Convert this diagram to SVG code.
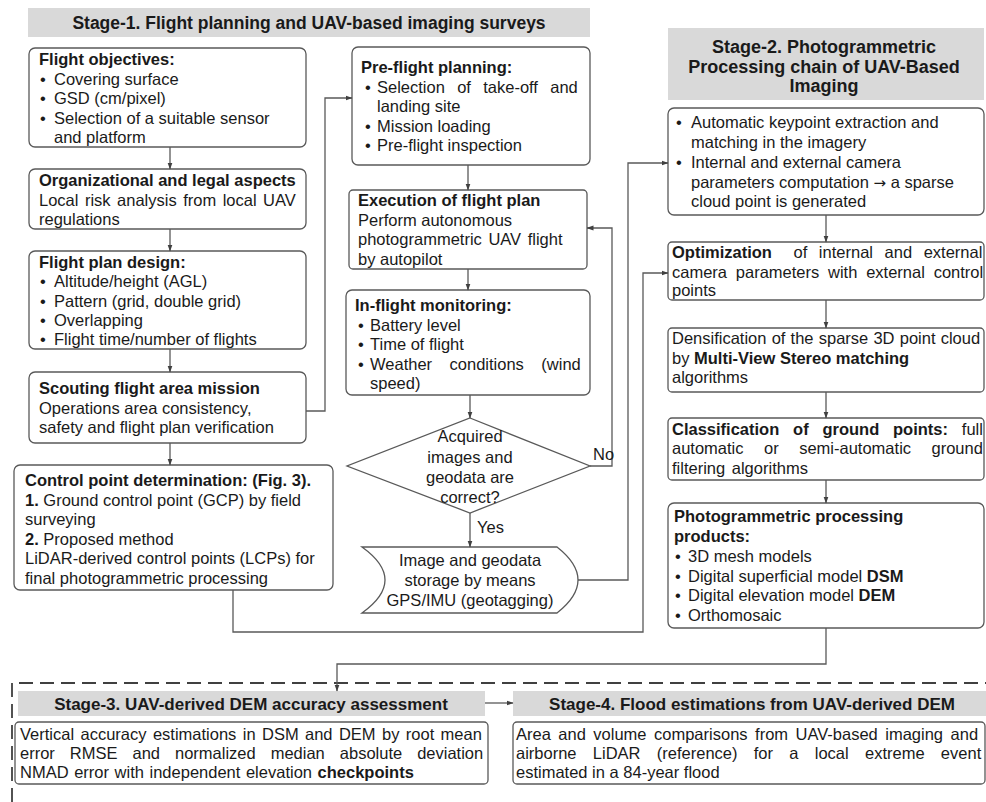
<svg xmlns="http://www.w3.org/2000/svg" width="986" height="802" viewBox="0 0 986 802">
<style>
  .bg { fill: #ffffff; }
  .box { fill: #ffffff; stroke: #595959; stroke-width: 1.3; }
  .hdr { fill: #d9d9d9; }
  text { font-family: "Liberation Sans", Arial, sans-serif; fill: #1a1a1a; }
  .t { font-size: 16.5px; }
  .b { font-weight: bold; }
  .c { text-anchor: middle; }
  .h { font-size: 17.5px; font-weight: bold; text-anchor: middle; }
  .h2 { font-size: 18px; font-weight: bold; text-anchor: middle; }
  .hs { font-size: 17px; font-weight: bold; text-anchor: middle; }
  .arr { font-family: "DejaVu Sans", sans-serif; font-size: 15px; }
  .conn path { fill: none; stroke: #595959; stroke-width: 1.3; }
  .dash { fill: none; stroke: #404040; stroke-width: 1.8; stroke-dasharray: 14 7; }
</style>
<defs>
  <marker id="ah" markerWidth="7" markerHeight="6" refX="6.5" refY="3" orient="auto" markerUnits="userSpaceOnUse">
    <path d="M0,0.5 L7,3 L0,5.5 z" fill="#404040"/>
  </marker>
</defs>
<rect class="bg" x="0" y="0" width="986" height="802"/>

<!-- Stage 1 -->
<g id="stage1-header">
  <rect class="hdr" x="28" y="8" width="562" height="29"/>
  <text class="h" x="309" y="28.5">Stage-1. Flight planning and UAV-based imaging surveys</text>
</g>

<g id="flight-objectives">
  <rect class="box" x="29" y="48" width="277" height="99" rx="6"/>
  <text class="t b" x="39" y="65">Flight objectives:</text>
  <text class="t" x="40" y="84.5">•</text><text class="t" x="54" y="84.5">Covering surface</text>
  <text class="t" x="40" y="104">•</text><text class="t" x="54" y="104">GSD (cm/pixel)</text>
  <text class="t" x="40" y="123.5">•</text><text class="t" x="54" y="123.5">Selection of a suitable sensor</text>
  <text class="t" x="54" y="143">and platform</text>
</g>

<g id="legal-aspects">
  <rect class="box" x="29" y="169" width="277" height="60" rx="6"/>
  <text class="t b" x="39" y="186">Organizational and legal aspects</text>
  <text class="t" x="39" y="205.5" word-spacing="1.9">Local risk analysis from local UAV</text>
  <text class="t" x="39" y="225">regulations</text>
</g>

<g id="flight-plan-design">
  <rect class="box" x="29" y="251" width="277" height="98" rx="6"/>
  <text class="t b" x="39" y="268">Flight plan design:</text>
  <text class="t" x="40" y="287">•</text><text class="t" x="54" y="287">Altitude/height (AGL)</text>
  <text class="t" x="40" y="306.5">•</text><text class="t" x="54" y="306.5">Pattern (grid, double grid)</text>
  <text class="t" x="40" y="326">•</text><text class="t" x="54" y="326">Overlapping</text>
  <text class="t" x="40" y="345">•</text><text class="t" x="54" y="345">Flight time/number of flights</text>
</g>

<g id="scouting">
  <rect class="box" x="29" y="372" width="277" height="71" rx="6"/>
  <text class="t b" x="39" y="394">Scouting flight area mission</text>
  <text class="t" x="39" y="413.5">Operations area consistency,</text>
  <text class="t" x="39" y="433">safety and flight plan verification</text>
</g>

<g id="control-points">
  <rect class="box" x="14" y="465" width="319" height="125" rx="6"/>
  <text class="t b" x="25" y="486">Control point determination: (Fig. 3).</text>
  <text class="t" x="25" y="505.5"><tspan class="b">1.</tspan> Ground control point (GCP) by field</text>
  <text class="t" x="25" y="525">surveying</text>
  <text class="t" x="25" y="544.5"><tspan class="b">2.</tspan> Proposed method</text>
  <text class="t" x="25" y="564">LiDAR-derived control points (LCPs) for</text>
  <text class="t" x="25" y="583.5">final photogrammetric processing</text>
</g>

<g id="pre-flight">
  <rect class="box" x="352" y="47" width="238" height="118" rx="6"/>
  <text class="t b" x="361" y="73">Pre-flight planning:</text>
  <text class="t" x="365" y="92.5">•</text><text class="t" x="377" y="92.5" word-spacing="7.7">Selection of take-off and</text>
  <text class="t" x="377" y="112">landing site</text>
  <text class="t" x="365" y="131.5">•</text><text class="t" x="377" y="131.5">Mission loading</text>
  <text class="t" x="365" y="151">•</text><text class="t" x="377" y="151">Pre-flight inspection</text>
</g>

<g id="execution">
  <rect class="box" x="349" y="190" width="238" height="79" rx="4"/>
  <text class="t b" x="358" y="206">Execution of flight plan</text>
  <text class="t" x="358" y="225.5">Perform autonomous</text>
  <text class="t" x="358" y="245" word-spacing="2">photogrammetric UAV flight</text>
  <text class="t" x="358" y="264.5">by autopilot</text>
</g>

<g id="in-flight">
  <rect class="box" x="346" y="290" width="244" height="105" rx="6"/>
  <text class="t b" x="355" y="311">In-flight monitoring:</text>
  <text class="t" x="358" y="330.5">•</text><text class="t" x="370" y="330.5">Battery level</text>
  <text class="t" x="358" y="350">•</text><text class="t" x="370" y="350">Time of flight</text>
  <text class="t" x="358" y="369.5">•</text><text class="t" x="370" y="369.5" word-spacing="12.9">Weather conditions (wind</text>
  <text class="t" x="370" y="389">speed)</text>
</g>

<g id="decision">
  <polygon class="box" points="470,418 590,466 470,513 347,466"/>
  <text class="t c" x="470" y="442">Acquired</text>
  <text class="t c" x="470" y="462.5">images and</text>
  <text class="t c" x="470" y="483">geodata are</text>
  <text class="t c" x="470" y="503">correct?</text>
</g>

<g id="storage">
  <path class="box" d="M362,547 H557 Q599,580 557,613 H362 Q408,580 362,547 Z"/>
  <text class="t c" x="470" y="565.5">Image and geodata</text>
  <text class="t c" x="470" y="585.5">storage by means</text>
  <text class="t c" x="470" y="605.5">GPS/IMU (geotagging)</text>
</g>

<!-- Stage 2 -->
<g id="stage2-header">
  <rect class="hdr" x="668" y="28" width="316" height="72"/>
  <text class="h2" x="824" y="53">Stage-2. Photogrammetric</text>
  <text class="h2" x="824" y="72.5">Processing chain of UAV-Based</text>
  <text class="h2" x="824" y="92">Imaging</text>
</g>

<g id="keypoints">
  <rect class="box" x="668" y="108" width="316" height="107" rx="6"/>
  <text class="t" x="676" y="127.5">•</text><text class="t" x="691" y="127.5">Automatic keypoint extraction and</text>
  <text class="t" x="691" y="147.5">matching in the imagery</text>
  <text class="t" x="676" y="167.5">•</text><text class="t" x="691" y="167.5">Internal and external camera</text>
  <text class="t" x="691" y="187.5">parameters computation <tspan class="arr">→</tspan> a sparse</text>
  <text class="t" x="691" y="207">cloud point is generated</text>
</g>

<g id="optimization">
  <rect class="box" x="668" y="242" width="316" height="58" rx="4"/>
  <text class="t" x="672" y="258" word-spacing="7"><tspan class="b">Optimization</tspan><tspan dx="10"> of internal and external</tspan></text>
  <text class="t" x="672" y="277.5" word-spacing="4.2">camera parameters with external control</text>
  <text class="t" x="672" y="296">points</text>
</g>

<g id="densification">
  <rect class="box" x="668" y="328" width="316" height="64" rx="4"/>
  <text class="t" x="672" y="344" word-spacing="0.6">Densification of the sparse 3D point cloud</text>
  <text class="t" x="672" y="363.5">by <tspan class="b">Multi-View Stereo matching</tspan></text>
  <text class="t" x="672" y="383">algorithms</text>
</g>

<g id="classification">
  <rect class="box" x="668" y="418" width="316" height="62" rx="4"/>
  <text class="t" x="672" y="434.5" word-spacing="9.2"><tspan class="b">Classification of ground points:</tspan> full</text>
  <text class="t" x="672" y="454" word-spacing="15.9">automatic or semi-automatic ground</text>
  <text class="t" x="672" y="473.5" word-spacing="2">filtering algorithms</text>
</g>

<g id="products">
  <rect class="box" x="668" y="503" width="316" height="125" rx="6"/>
  <text class="t b" x="674" y="522">Photogrammetric processing</text>
  <text class="t b" x="674" y="542">products:</text>
  <text class="t" x="675" y="562">•</text><text class="t" x="688" y="562">3D mesh models</text>
  <text class="t" x="675" y="581.5">•</text><text class="t" x="688" y="581.5">Digital superficial model <tspan class="b">DSM</tspan></text>
  <text class="t" x="675" y="601">•</text><text class="t" x="688" y="601">Digital elevation model <tspan class="b">DEM</tspan></text>
  <text class="t" x="675" y="620.5">•</text><text class="t" x="688" y="620.5">Orthomosaic</text>
</g>

<!-- Stage 3 / 4 -->
<path class="dash" d="M12,802 V683 H986"/>

<g id="stage3-header">
  <rect class="hdr" x="18" y="691" width="467" height="25"/>
  <text class="hs" x="251" y="709.5">Stage-3. UAV-derived DEM accuracy assessment</text>
</g>

<g id="stage3-box">
  <rect class="box" x="15" y="722" width="473" height="62" rx="4"/>
  <text class="t" x="20" y="740" word-spacing="1.8">Vertical accuracy estimations in DSM and DEM by root mean</text>
  <text class="t" x="20" y="759" word-spacing="10.4">error RMSE and normalized median absolute deviation</text>
  <text class="t" x="20" y="778" word-spacing="1">NMAD error with independent elevation <tspan class="b">checkpoints</tspan></text>
</g>

<g id="stage4-header">
  <rect class="hdr" x="513" y="691" width="473" height="25"/>
  <text class="hs" x="752" y="709.5">Stage-4. Flood estimations from UAV-derived DEM</text>
</g>

<g id="stage4-box">
  <rect class="box" x="513" y="722" width="472" height="62" rx="4"/>
  <text class="t" x="516" y="740" word-spacing="2.9">Area and volume comparisons from UAV-based imaging and</text>
  <text class="t" x="516" y="759" word-spacing="11.7">airborne LiDAR (reference) for a local extreme event</text>
  <text class="t" x="516" y="778">estimated in a 84-year flood</text>
</g>

<!-- Connectors -->
<g id="connectors" class="conn">
  <path d="M170,147 V169" marker-end="url(#ah)"/>
  <path d="M170,229 V251" marker-end="url(#ah)"/>
  <path d="M170,349 V372" marker-end="url(#ah)"/>
  <path d="M170,443 V465" marker-end="url(#ah)"/>
  <path d="M306,411 H325 V98 H352" marker-end="url(#ah)"/>
  <path d="M468,165 V190" marker-end="url(#ah)"/>
  <path d="M468,269 V290" marker-end="url(#ah)"/>
  <path d="M470,395 V418" marker-end="url(#ah)"/>
  <path d="M470,513 V547" marker-end="url(#ah)"/>
  <path d="M590,466 H612 V228 H587" marker-end="url(#ah)"/>
  <path d="M578,580 H628 V163 H668" marker-end="url(#ah)"/>
  <path d="M233,590 V632 H643 V273 H668" marker-end="url(#ah)"/>
  <path d="M826,215 V242" marker-end="url(#ah)"/>
  <path d="M826,300 V328" marker-end="url(#ah)"/>
  <path d="M826,392 V418" marker-end="url(#ah)"/>
  <path d="M826,480 V503" marker-end="url(#ah)"/>
  <path d="M826,628 V664 H337 V691" marker-end="url(#ah)"/>
  <path d="M485,703 H513" marker-end="url(#ah)"/>
  <text class="t" x="593" y="460">No</text>
  <text class="t" x="477" y="533">Yes</text>
</g>
</svg>
